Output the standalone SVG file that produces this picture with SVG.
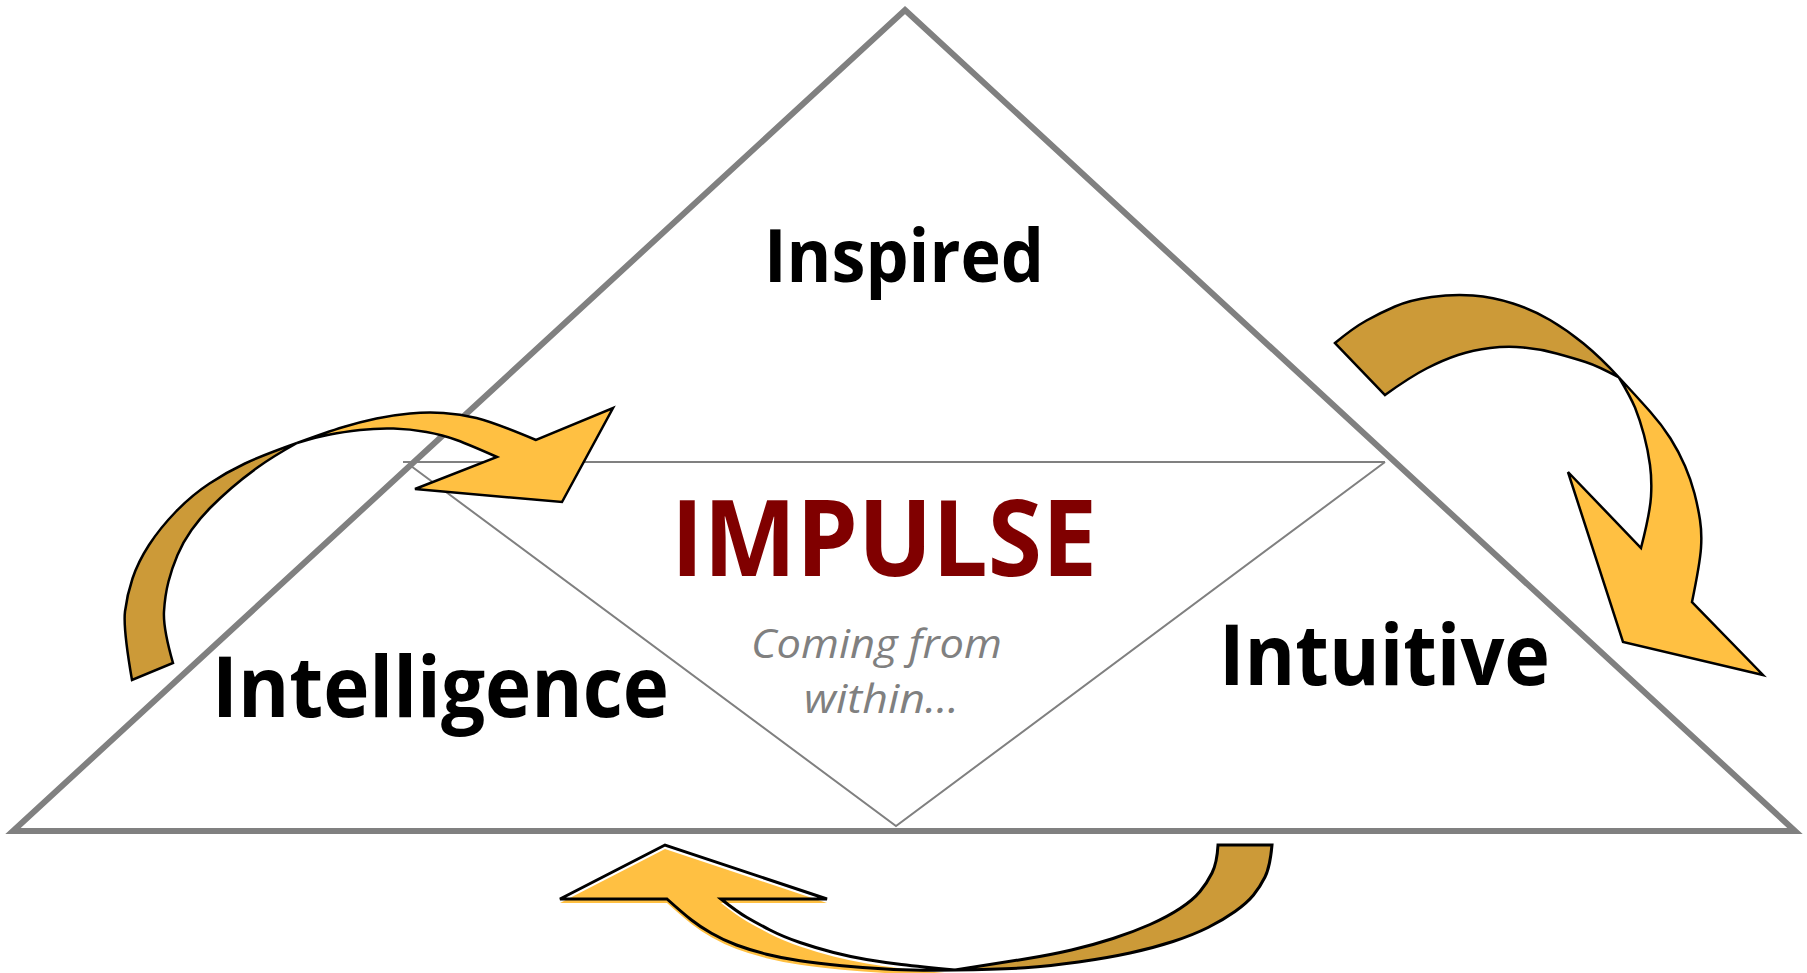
<svg xmlns="http://www.w3.org/2000/svg" width="1807" height="973" viewBox="0 0 1807 973">
<style>
.outer{fill:#ffffff;stroke:#808080;stroke-width:6;stroke-linejoin:miter}
.inner{fill:none;stroke:#808080;stroke-width:2}
.lbl{font-family:"Open Sans","Liberation Sans",sans-serif;font-weight:700;fill:#000000}
.title{font-family:"Open Sans","Liberation Sans",sans-serif;font-weight:700;fill:#800000}
.sub{font-family:"Open Sans","Liberation Sans",sans-serif;font-style:italic;fill:#808080}
.light{fill:#FFC042}
.dark{fill:#CC9A38}
.edge{stroke:#000000;stroke-width:2.5;stroke-linejoin:miter}
.noedge{stroke:none}
.lineonly{fill:none;stroke:#000000;stroke-width:3;stroke-linejoin:miter}
</style>
<rect width="1807" height="973" fill="#ffffff"/>
<g id="triangle">
<polygon class="outer" points="905,10 1795,831 13,831"/>
<polyline class="inner" points="403,462 1385,462"/>
<polyline class="inner" points="411,466 896,826 1385,462"/>
</g>
<g id="node-inspired"><text class="lbl" x="764" y="282" font-size="73" textLength="280" lengthAdjust="spacingAndGlyphs">Inspired</text></g>
<g id="node-impulse">
<text class="title" x="671" y="576" font-size="106" textLength="426" lengthAdjust="spacingAndGlyphs">IMPULSE</text>
<text class="sub" x="751" y="658" font-size="41" textLength="251" lengthAdjust="spacingAndGlyphs">Coming from</text>
<text class="sub" x="804" y="713" font-size="41" textLength="155" lengthAdjust="spacingAndGlyphs">within…</text>
</g>
<g id="node-intelligence"><text class="lbl" x="212" y="717" font-size="85" textLength="457" lengthAdjust="spacingAndGlyphs">Intelligence</text></g>
<g id="node-intuitive"><text class="lbl" x="1219" y="685" font-size="84" textLength="331" lengthAdjust="spacingAndGlyphs">Intuitive</text></g>
<g id="connectors">
<g id="arrow-left">
<path class="dark edge" d="M132,680 Q123,628 125,611.5 Q127,595 132.5,578.5 Q138,562 149,545 Q160,528 176,511.5 Q192,495 209.5,483.5 Q227,472 245,463.5 Q263,455 297,443 Q272,457 257.5,467.5 Q243,478 231.5,488 Q220,498 210,508 Q200,518 191.5,530 Q183,542 177.5,555 Q172,568 168.5,581.5 Q165,595 164,611.5 Q163,628 173,663 Z"/>
<path class="light edge" d="M297,443 Q327,432 343.5,427 Q360,422 376.5,418.5 Q393,415 410,413.5 Q427,412 443.5,413 Q460,414 476.5,418 Q493,422 536,440 L613,408 L562,502 L415,489 L497,457 Q470,445 456.5,440 Q443,435 426.5,432 Q410,429 393.5,428.5 Q377,428 360,430 Q343,432 330,434.5 Q317,437 297,443 Z"/>
</g>
<g id="arrow-right">
<path class="dark edge" d="M1335,343 Q1353,328 1366.5,320.5 Q1380,313 1395,306.5 Q1410,300 1431.5,297 Q1453,294 1473,295.5 Q1493,297 1513,303.5 Q1533,310 1550,320 Q1567,330 1583.5,343.5 Q1600,357 1619,377.5 Q1598,366 1585.5,362 Q1573,358 1556.5,353.5 Q1540,349 1523.5,347.5 Q1507,346 1490,348 Q1473,350 1458,355 Q1443,360 1426.5,368.5 Q1410,377 1385,395 Z"/>
<path class="light edge" d="M1619,377.5 Q1638,398 1650,411.5 Q1662,425 1670.5,438.5 Q1679,452 1685,466 Q1691,480 1694.5,493.5 Q1698,507 1700,520 Q1702,533 1701,548 Q1700,563 1692,602 L1763,675 L1623,642 L1568,472 L1641,548 Q1650,513 1651,496.5 Q1652,480 1650,465 Q1648,450 1644,435 Q1640,420 1635,407.5 Q1630,396 1619,377.5 Z"/>
</g>
<g id="arrow-bottom">
<path class="dark lineonly" style="fill:#CC9A38" d="M1218,845 L1272,845 Q1270,867 1265,877 Q1260,887 1253.5,895 Q1247,903 1235,911.5 Q1223,920 1208,927.5 Q1193,935 1173,941.5 Q1153,948 1130,953 Q1107,958 1078.5,962 Q1050,966 1025,967.8 Q1000,969.5 955,970 Q1000,963 1025,959 Q1050,955 1071.5,950 Q1093,945 1113,938.5 Q1133,932 1150,924.5 Q1167,917 1180,908.5 Q1193,900 1200,891.5 Q1207,883 1212,873 Q1217,863 1218,845 Z"/>
<path class="light noedge" transform="translate(0,4)" d="M955,970 Q920,966.7 901.5,964.5 Q883,962.3 866.5,959.5 Q850,956.7 833.5,952.5 Q817,948.3 800,942.5 Q783,936.7 770,930 Q757,923.3 747,917.5 Q737,911.7 721,899 L827,899 L665,845 L560,899 L667,899 Q683,913.3 691.5,920 Q700,926.7 711.5,933.3 Q723,940 736.5,945 Q750,950 766.5,954.2 Q783,958.3 800,960.8 Q817,963.3 842,965.8 Q867,968.3 893.5,969.4 Q920,970.5 955,970 Z"/>
<path class="lineonly" d="M955,970 Q920,966.7 901.5,964.5 Q883,962.3 866.5,959.5 Q850,956.7 833.5,952.5 Q817,948.3 800,942.5 Q783,936.7 770,930 Q757,923.3 747,917.5 Q737,911.7 721,899 L827,899 L665,845 L560,899 L667,899 Q683,913.3 691.5,920 Q700,926.7 711.5,933.3 Q723,940 736.5,945 Q750,950 766.5,954.2 Q783,958.3 800,960.8 Q817,963.3 842,965.8 Q867,968.3 893.5,969.4 Q920,970.5 955,970 Z"/>
</g>
</g>
</svg>
